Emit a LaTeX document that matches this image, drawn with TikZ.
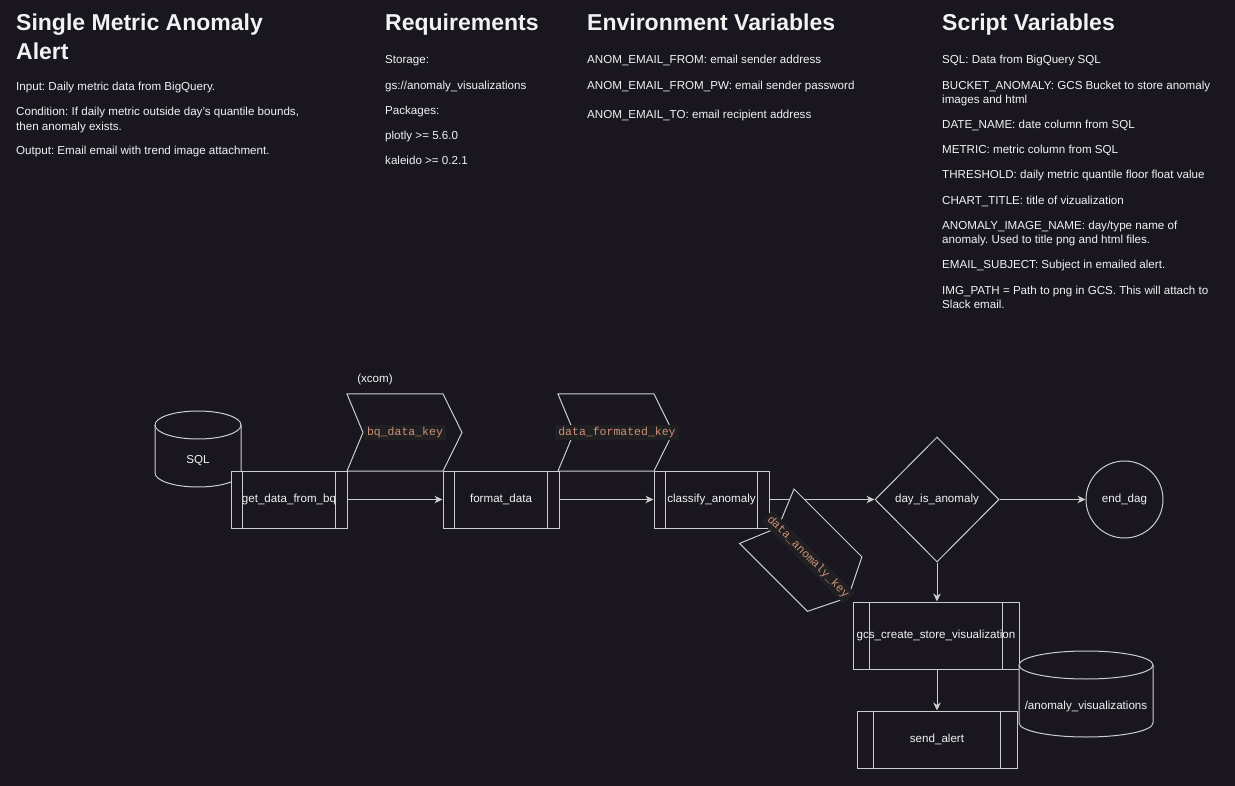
\documentclass[tikz,border=0pt]{standalone}
\usepackage{fontspec}
\setmainfont{Liberation Sans}
\newfontfamily\monof{Liberation Mono}
\usetikzlibrary{arrows.meta,shapes.geometric}
\definecolor{bgc}{RGB}{25,22,31}
\definecolor{lnc}{RGB}{205,205,205}
\definecolor{txc}{RGB}{242,242,242}
\definecolor{keyc}{RGB}{206,145,120}
\definecolor{keybg}{RGB}{32,31,33}
\frenchspacing
\begin{document}
\begin{tikzpicture}[x=1pt,y=-1pt,
  ln/.style={draw=lnc, line width=1pt},
  proc/.style={ln, fill=bgc, inner sep=0pt, text=txc, font=\fontsize{11.6}{14}\selectfont},
  arr/.style={ln, -{Stealth[length=8pt,width=7.5pt,inset=2.5pt]}},
  body/.style={text=txc, font=\fontsize{11.6}{14}\selectfont, anchor=base west, inner sep=0pt},
  ttl/.style={text=txc, font=\fontsize{23}{26}\selectfont\bfseries, anchor=base west, inner sep=0pt},
  lbl/.style={text=txc, font=\fontsize{11.6}{14}\selectfont, inner sep=0pt},
  key/.style={text=keyc, fill=keybg, font=\monof\fontsize{11.5}{13}\selectfont, inner xsep=3pt, inner ysep=2.5pt},
]
\useasboundingbox (0,0) rectangle (1235,786);
\fill[bgc] (0,0) rectangle (1235,786);

% ---- text blocks ----
\node[ttl] (h1a) at (16,31) {Single Metric Anomaly};
\node[ttl] (h1b) at (16,60) {Alert};
\node[body] (p1) at (16,90.5) {Input: Daily metric data from BigQuery.};
\node[body] (p2) at (16,116) {Condition: If daily metric outside day's quantile bounds,};
\node[body] (p3) at (16,130.5) {then anomaly exists.};
\node[body] (p4) at (16,155) {Output: Email email with trend image attachment.};

\node[ttl] (h2) at (385,31) {Requirements};
\node[body] (r1) at (385,64) {Storage:};
\node[body] (r2) at (385,90) {gs://anomaly\_visualizations};
\node[body] (r3) at (385,115) {Packages:};
\node[body] (r4) at (385,140) {plotly >= 5.6.0};
\node[body] (r5) at (385,165) {kaleido >= 0.2.1};

\node[ttl] (h3) at (587,31) {Environment Variables};
\node[body] (e1) at (587,64) {ANOM\_EMAIL\_FROM: email sender address};
\node[body] (e2) at (587,90) {ANOM\_EMAIL\_FROM\_PW: email sender password};
\node[body] (e3) at (587,119) {ANOM\_EMAIL\_TO: email recipient address};

\node[ttl] (h4) at (942,31) {Script Variables};
\node[body] (s1) at (942,64) {SQL: Data from BigQuery SQL};
\node[body] (s2) at (942,90) {BUCKET\_ANOMALY: GCS Bucket to store anomaly};
\node[body] (s3) at (942,103.5) {images and html};
\node[body] (s4) at (942,129) {DATE\_NAME: date column from SQL};
\node[body] (s5) at (942,154) {METRIC: metric column from SQL};
\node[body] (s6) at (942,179) {THRESHOLD: daily metric quantile floor float value};
\node[body] (s7) at (942,205) {CHART\_TITLE: title of vizualization};
\node[body] (s8) at (942,230) {ANOMALY\_IMAGE\_NAME: day/type name of};
\node[body] (s9) at (942,243.5) {anomaly. Used to title png and html files.};
\node[body] (s10) at (942,269) {EMAIL\_SUBJECT: Subject in emailed alert.};
\node[body] (s11) at (942,295) {IMG\_PATH = Path to png in GCS. This will attach to};
\node[body] (s12) at (942,308.5) {Slack email.};

% ---- SQL cylinder ----
\path[ln, fill=bgc] (155,425) -- (155,473) arc[start angle=180,end angle=360,x radius=43pt,y radius=14pt]
  -- (241,425) arc[start angle=0,end angle=180,x radius=43pt,y radius=14pt] -- cycle;
\draw[ln] (155,425) arc[start angle=180,end angle=360,x radius=43pt,y radius=14pt];
\node[lbl] (sql) at (198,461) {SQL};

% ---- xcom chevrons ----
\node[lbl] (xcom) at (375,379) {(xcom)};
\draw[ln, fill=bgc] (347,471) -- (363,432.5) -- (347,394) -- (443,394) -- (462,432.5) -- (443,471) -- cycle;
\draw[ln, fill=bgc] (558,471) -- (574,432.5) -- (558,394) -- (654,394) -- (673,432.5) -- (654,471) -- cycle;
\node[key] (k1) at (405,432.5) {bq\_data\_key};
\node[key] (k2) at (617,432.5) {data\_formated\_key};

% ---- process boxes ----
\node[proc, rectangle, minimum width=116pt, minimum height=57pt] (gd) at (289,499.5) {get\_data\_from\_bq};
\draw[ln] ([xshift=12pt]gd.north west) -- ([xshift=12pt]gd.south west);
\draw[ln] ([xshift=-12pt]gd.north east) -- ([xshift=-12pt]gd.south east);
\node[proc, rectangle, minimum width=116pt, minimum height=57pt] (fd) at (501,499.5) {format\_data};
\draw[ln] ([xshift=12pt]fd.north west) -- ([xshift=12pt]fd.south west);
\draw[ln] ([xshift=-12pt]fd.north east) -- ([xshift=-12pt]fd.south east);
\node[proc, rectangle, minimum width=115pt, minimum height=57pt] (ca) at (711.5,499.5) {classify\_anomaly};
\draw[ln] ([xshift=12pt]ca.north west) -- ([xshift=12pt]ca.south west);
\draw[ln] ([xshift=-12pt]ca.north east) -- ([xshift=-12pt]ca.south east);

\node[proc, diamond, minimum width=124pt, minimum height=125pt] (dia) at (937,499.5) {day\_is\_anomaly};
\node[proc, circle, minimum size=77pt] (ed) at (1124.5,499.5) {end\_dag};

\draw[arr] (gd.east) -- (fd.west);
\draw[arr] (fd.east) -- (ca.west);
\draw[arr] (ca.east) -- (dia.west);
\draw[arr] (dia.east) -- (ed.west);

% ---- rotated xcom ----
\begin{scope}[shift={(794,489)}, rotate=-45]
\draw[ln, fill=bgc] (0,0) -- (96,0) -- (115,38.5) -- (96,77) -- (0,77) -- (16,38.5) -- cycle;
\end{scope}
\node[key, rotate=-45] (k3) at (808,557) {data\_anomaly\_key};

% ---- lower branch ----
\node[proc, rectangle, minimum width=166pt, minimum height=67pt] (gcs) at (936,635.5) {gcs\_create\_store\_visualization};
\draw[ln] ([xshift=17pt]gcs.north west) -- ([xshift=17pt]gcs.south west);
\draw[ln] ([xshift=-17pt]gcs.north east) -- ([xshift=-17pt]gcs.south east);
\node[proc, rectangle, minimum width=160pt, minimum height=57pt] (sa) at (937,739.5) {send\_alert};
\draw[ln] ([xshift=17pt]sa.north west) -- ([xshift=17pt]sa.south west);
\draw[ln] ([xshift=-17pt]sa.north east) -- ([xshift=-17pt]sa.south east);

\draw[arr] (dia.south) -- (dia.south |- gcs.north);
\draw[arr] (dia.south |- gcs.south) -- (dia.south |- sa.north);

% ---- GCS cylinder ----
\path[ln, fill=bgc] (1019,665) -- (1019,723) arc[start angle=180,end angle=360,x radius=67pt,y radius=14pt]
  -- (1153,665) arc[start angle=0,end angle=180,x radius=67pt,y radius=14pt] -- cycle;
\draw[ln] (1019,665) arc[start angle=180,end angle=360,x radius=67pt,y radius=14pt];
\node[lbl] (gcsb) at (1086,706) {/anomaly\_visualizations};
\end{tikzpicture}
\end{document}
